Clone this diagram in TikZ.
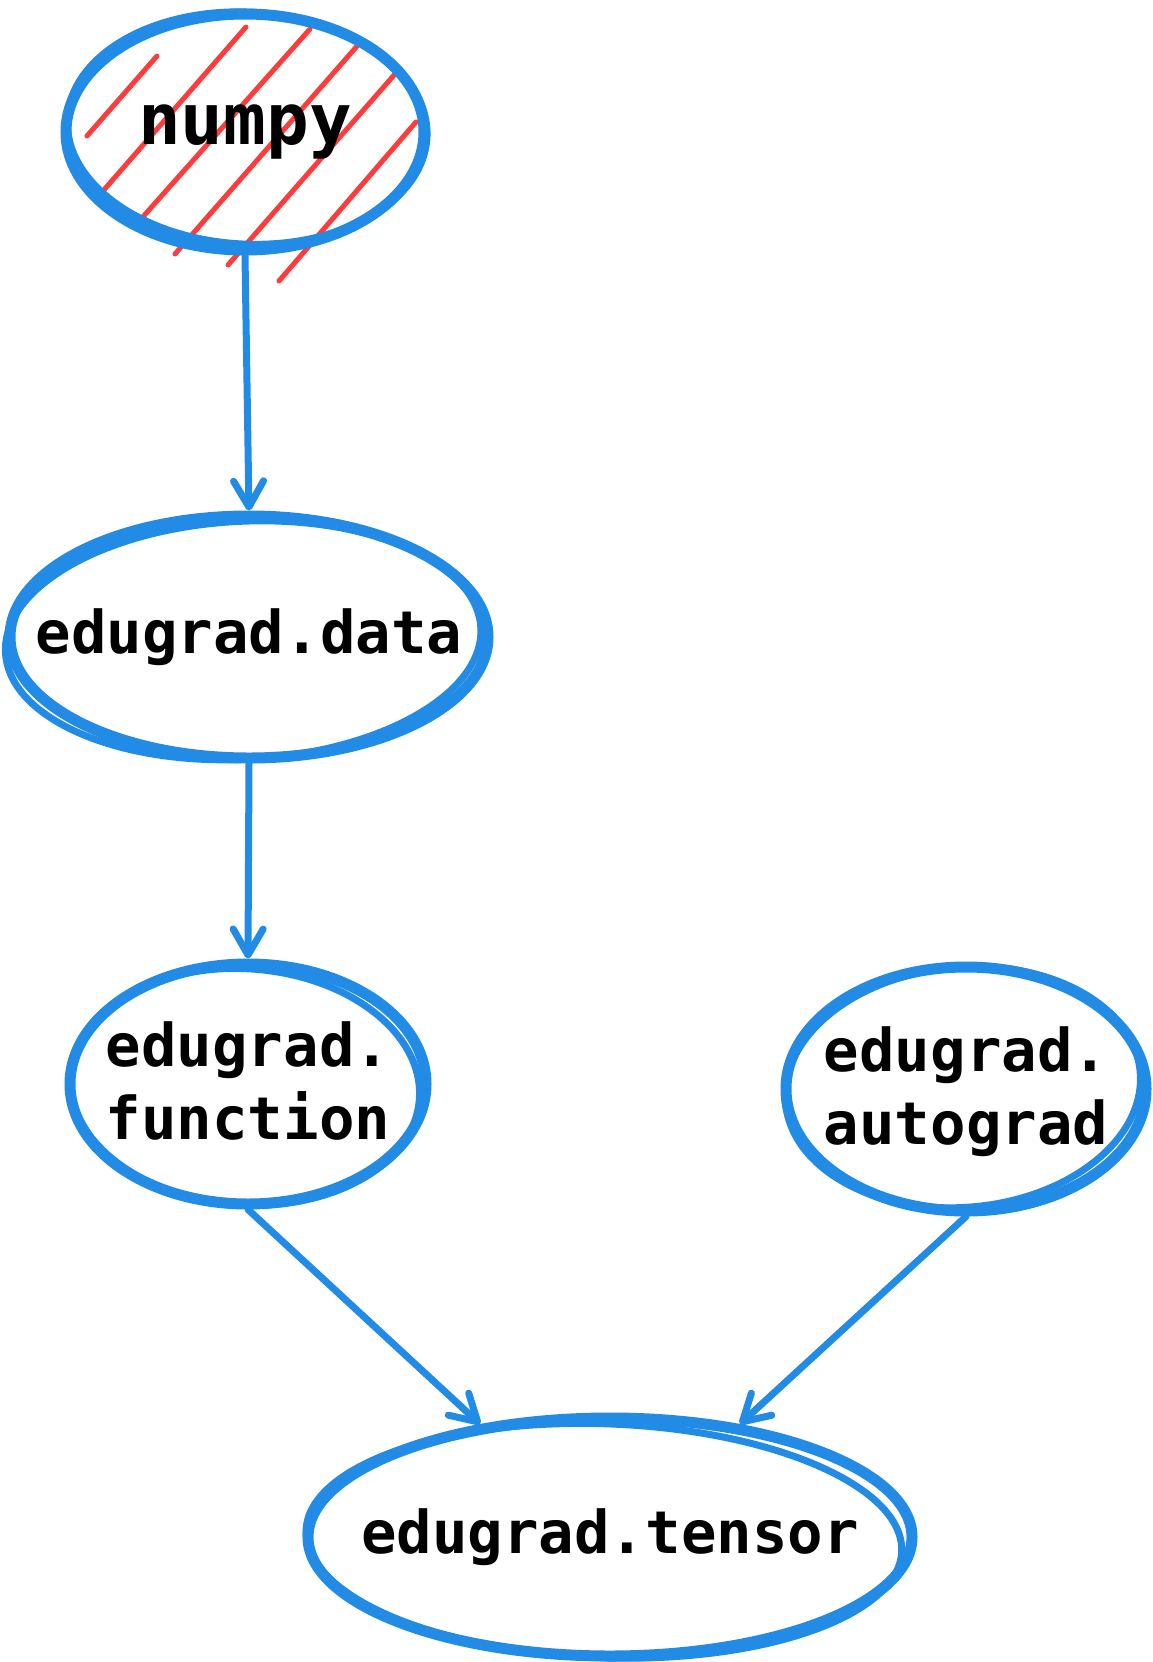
\documentclass[tikz,border=0pt]{standalone}
\usepackage{fontspec}
\setmonofont{DejaVu Sans Mono}
\usetikzlibrary{shapes.geometric,arrows.meta}
\definecolor{skblue}{HTML}{228BE6}
\definecolor{skred}{HTML}{FF3B3B}
\newcommand{\zw}[1]{\makebox[0pt]{#1}}
\newcommand{\twol}[2]{\makebox[0pt]{\raisebox{-11pt}[0pt][0pt]{\begin{tabular}{@{}l@{}}#1\\#2\end{tabular}}}}
\begin{document}
\begin{tikzpicture}[x=1pt,y=-1pt,
  ell/.style={ellipse, draw=skblue, line width=11pt, inner sep=0pt,
    font=\ttfamily\bfseries\fontsize{59}{73}\selectfont},
  sk/.style={draw=skblue, line width=7pt},
  hach/.style={draw=skred, line width=5pt, line cap=round},
  conn/.style={draw=skblue, line width=7pt, line cap=round,
    -{Straight Barb[length=26pt,width=30pt,line width=7pt,round]}}]
\useasboundingbox[fill=white] (0,0) rectangle (1152,1662);

% hachure of numpy
\draw[hach] (87,136) -- (157,56);
\draw[hach] (103,191) -- (246,27);
\draw[hach] (141,219) -- (310,29);
\draw[hach] (175,254) -- (358,45);
\draw[hach] (228,265) -- (395,74);
\draw[hach] (279,281) -- (416,122);

% nodes
\node[ell, minimum width=358pt, minimum height=236pt,
  font=\ttfamily\bfseries\fontsize{71}{85}\selectfont] (numpy) at (245,132) {\zw{numpy}};
\node[ell, minimum width=478pt, minimum height=242pt] (data) at (249,637) {\zw{edugrad.data}};
\node[ell, minimum width=356pt, minimum height=240pt] (function) at (248,1084) {\twol{edugrad.}{function}};
\node[ell, minimum width=360pt, minimum height=244pt] (autograd) at (966,1089) {\twol{edugrad.}{autograd}};
\node[ell, minimum width=604pt, minimum height=238pt] (tensor) at (610,1537) {\zw{edugrad.tensor}};

% sketchy second strokes
\begin{scope}[shift={(numpy.center)}, rotate=-3]
  \draw[sk] (2,-4) ellipse [x radius=180pt, y radius=116pt];
\end{scope}
\begin{scope}[shift={(data.center)}, rotate=3]
  \draw[sk] (-6,3) ellipse [x radius=238pt, y radius=119pt];
\end{scope}
\begin{scope}[shift={(function.center)}, rotate=-4]
  \draw[sk] (-3,3) ellipse [x radius=175pt, y radius=118pt];
\end{scope}
\begin{scope}[shift={(autograd.center)}, rotate=5]
  \draw[sk] (-3,-2) ellipse [x radius=178pt, y radius=120pt];
\end{scope}
\begin{scope}[shift={(tensor.center)}, rotate=-2]
  \draw[sk] (-6,4) ellipse [x radius=298pt, y radius=117pt];
\end{scope}

% connectors
\draw[conn] (numpy.south) -- (data.north);
\draw[conn] (data.south) -- (function.north);
\draw[conn] (function.south) -- (tensor.139);
\draw[conn] (autograd.south) -- (tensor.41);
\end{tikzpicture}
\end{document}
